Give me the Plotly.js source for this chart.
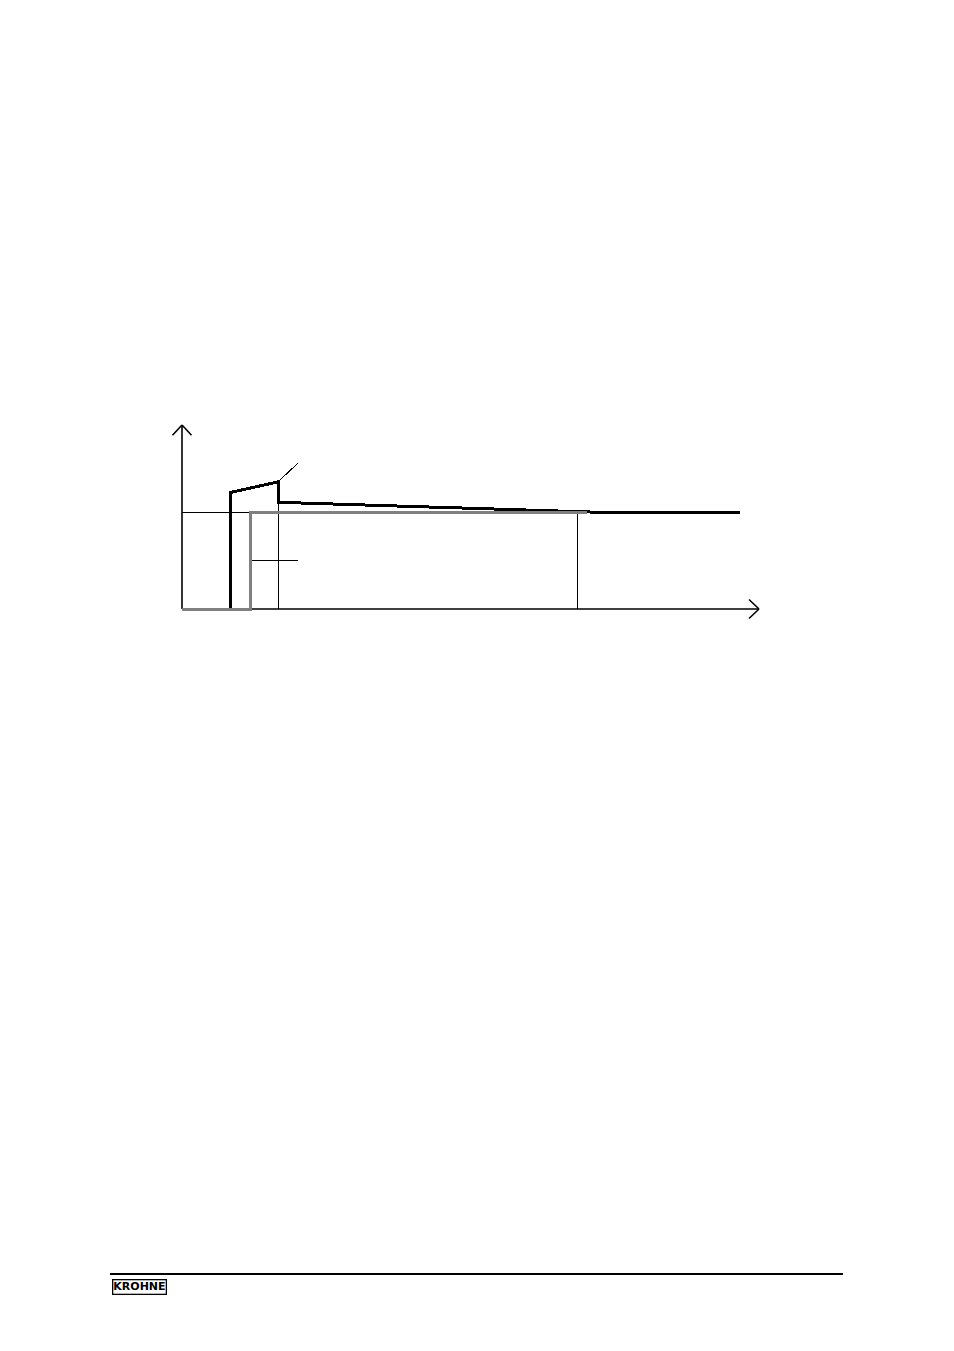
<!DOCTYPE html>
<html>
<head>
<meta charset="utf-8">
<script src="https://cdn.plot.ly/plotly-3.0.1.min.js"></script>
<style>
html,body{margin:0;padding:0;background:#fff;}
#chart{width:954px;height:1351px;}
#chart .scatterlayer path.js-line, #chart .layer-below path, #chart .layer-above path{shape-rendering:crispEdges;}
</style>
</head>
<body>
<div id="chart"></div>
<script>
// Response curve (black) – time vs normalised value
var responseT = [0, 4.8, 4.8, 9.6, 9.6, 40.8, 55.8];
var responseY = [0, 0, 1.2, 1.31, 1.1, 1.0, 1.0];
// Setpoint step (grey)
var stepT = [0, 6.8, 6.8, 40.5];
var stepY = [0, 0, 1.0, 1.0];
// Auxiliary thin lines
var setpointLevelT = [0, 6.8];
var setpointLevelY = [1.0, 1.0];
var halfLevelT = [6.8, 11.6];
var halfLevelY = [0.5, 0.5];
var peakMarkerT = [9.6, 9.6];
var peakMarkerY = [0, 1.1];
var settleMarkerT = [39.5, 39.5];
var settleMarkerY = [0, 1.0];
var leaderT = [9.6, 11.6];
var leaderY = [1.31, 1.505];
// Axis extents
var xAxisEnd = 57.7;
var yAxisEnd = 1.897;

var thin = {color: '#000', width: 1};
var traces = [
  {x: setpointLevelT, y: setpointLevelY, mode: 'lines', line: thin},
  {x: halfLevelT, y: halfLevelY, mode: 'lines', line: thin},
  {x: peakMarkerT, y: peakMarkerY, mode: 'lines', line: thin},
  {x: settleMarkerT, y: settleMarkerY, mode: 'lines', line: thin},
  {x: leaderT, y: leaderY, mode: 'lines', line: thin},
  {x: responseT, y: responseY, mode: 'lines', line: {color: '#000', width: 3, simplify: false}},
  {x: stepT, y: stepY, mode: 'lines', line: {color: '#808080', width: 3, simplify: false}}
];

var axLine = {color: '#000', width: 1.6};
var shapes = [
  // y axis + arrow
  {type: 'line', layer: 'below', xref: 'x', yref: 'y', x0: 0, y0: 0, x1: 0, y1: yAxisEnd, line: axLine},
  {type: 'line', layer: 'below', xref: 'x', yref: 'y', x0: -0.95, y0: yAxisEnd - 0.105, x1: 0, y1: yAxisEnd, line: axLine},
  {type: 'line', layer: 'below', xref: 'x', yref: 'y', x0: 0.95, y0: yAxisEnd - 0.105, x1: 0, y1: yAxisEnd, line: axLine},
  // x axis + arrow
  {type: 'line', layer: 'below', xref: 'x', yref: 'y', x0: 0, y0: 0, x1: xAxisEnd, y1: 0, line: axLine},
  {type: 'line', layer: 'below', xref: 'x', yref: 'y', x0: xAxisEnd - 1.0, y0: 0.098, x1: xAxisEnd, y1: 0, line: axLine},
  {type: 'line', layer: 'below', xref: 'x', yref: 'y', x0: xAxisEnd - 1.0, y0: -0.098, x1: xAxisEnd, y1: 0, line: axLine},
  // footer rule
  {type: 'line', xref: 'paper', yref: 'paper', x0: 110/954, x1: 843/954, y0: 1 - 1274/1351, y1: 1 - 1274/1351, line: {color: '#000', width: 2}}
];

var layout = {
  width: 954, height: 1351,
  margin: {l: 0, r: 0, t: 0, b: 0},
  paper_bgcolor: '#fff', plot_bgcolor: '#fff',
  showlegend: false,
  xaxis: {range: [-18.2, 77.2], visible: false, fixedrange: true},
  yaxis: {range: [(609 - 1351) / 97, 609 / 97], visible: false, fixedrange: true},
  shapes: shapes,
  annotations: [
    {xref: 'paper', yref: 'paper', x: 139.5/954, y: 1 - 1287/1351, text: '<b>KROHNE</b>',
     showarrow: false, font: {family: 'DejaVu Sans, sans-serif', size: 11, color: '#000'},
     bordercolor: '#000', borderwidth: 1.3, borderpad: 0, bgcolor: '#fff', xanchor: 'center', yanchor: 'middle'}
  ]
};

Plotly.newPlot('chart', traces, layout, {displayModeBar: false, staticPlot: true});
</script>
</body>
</html>
